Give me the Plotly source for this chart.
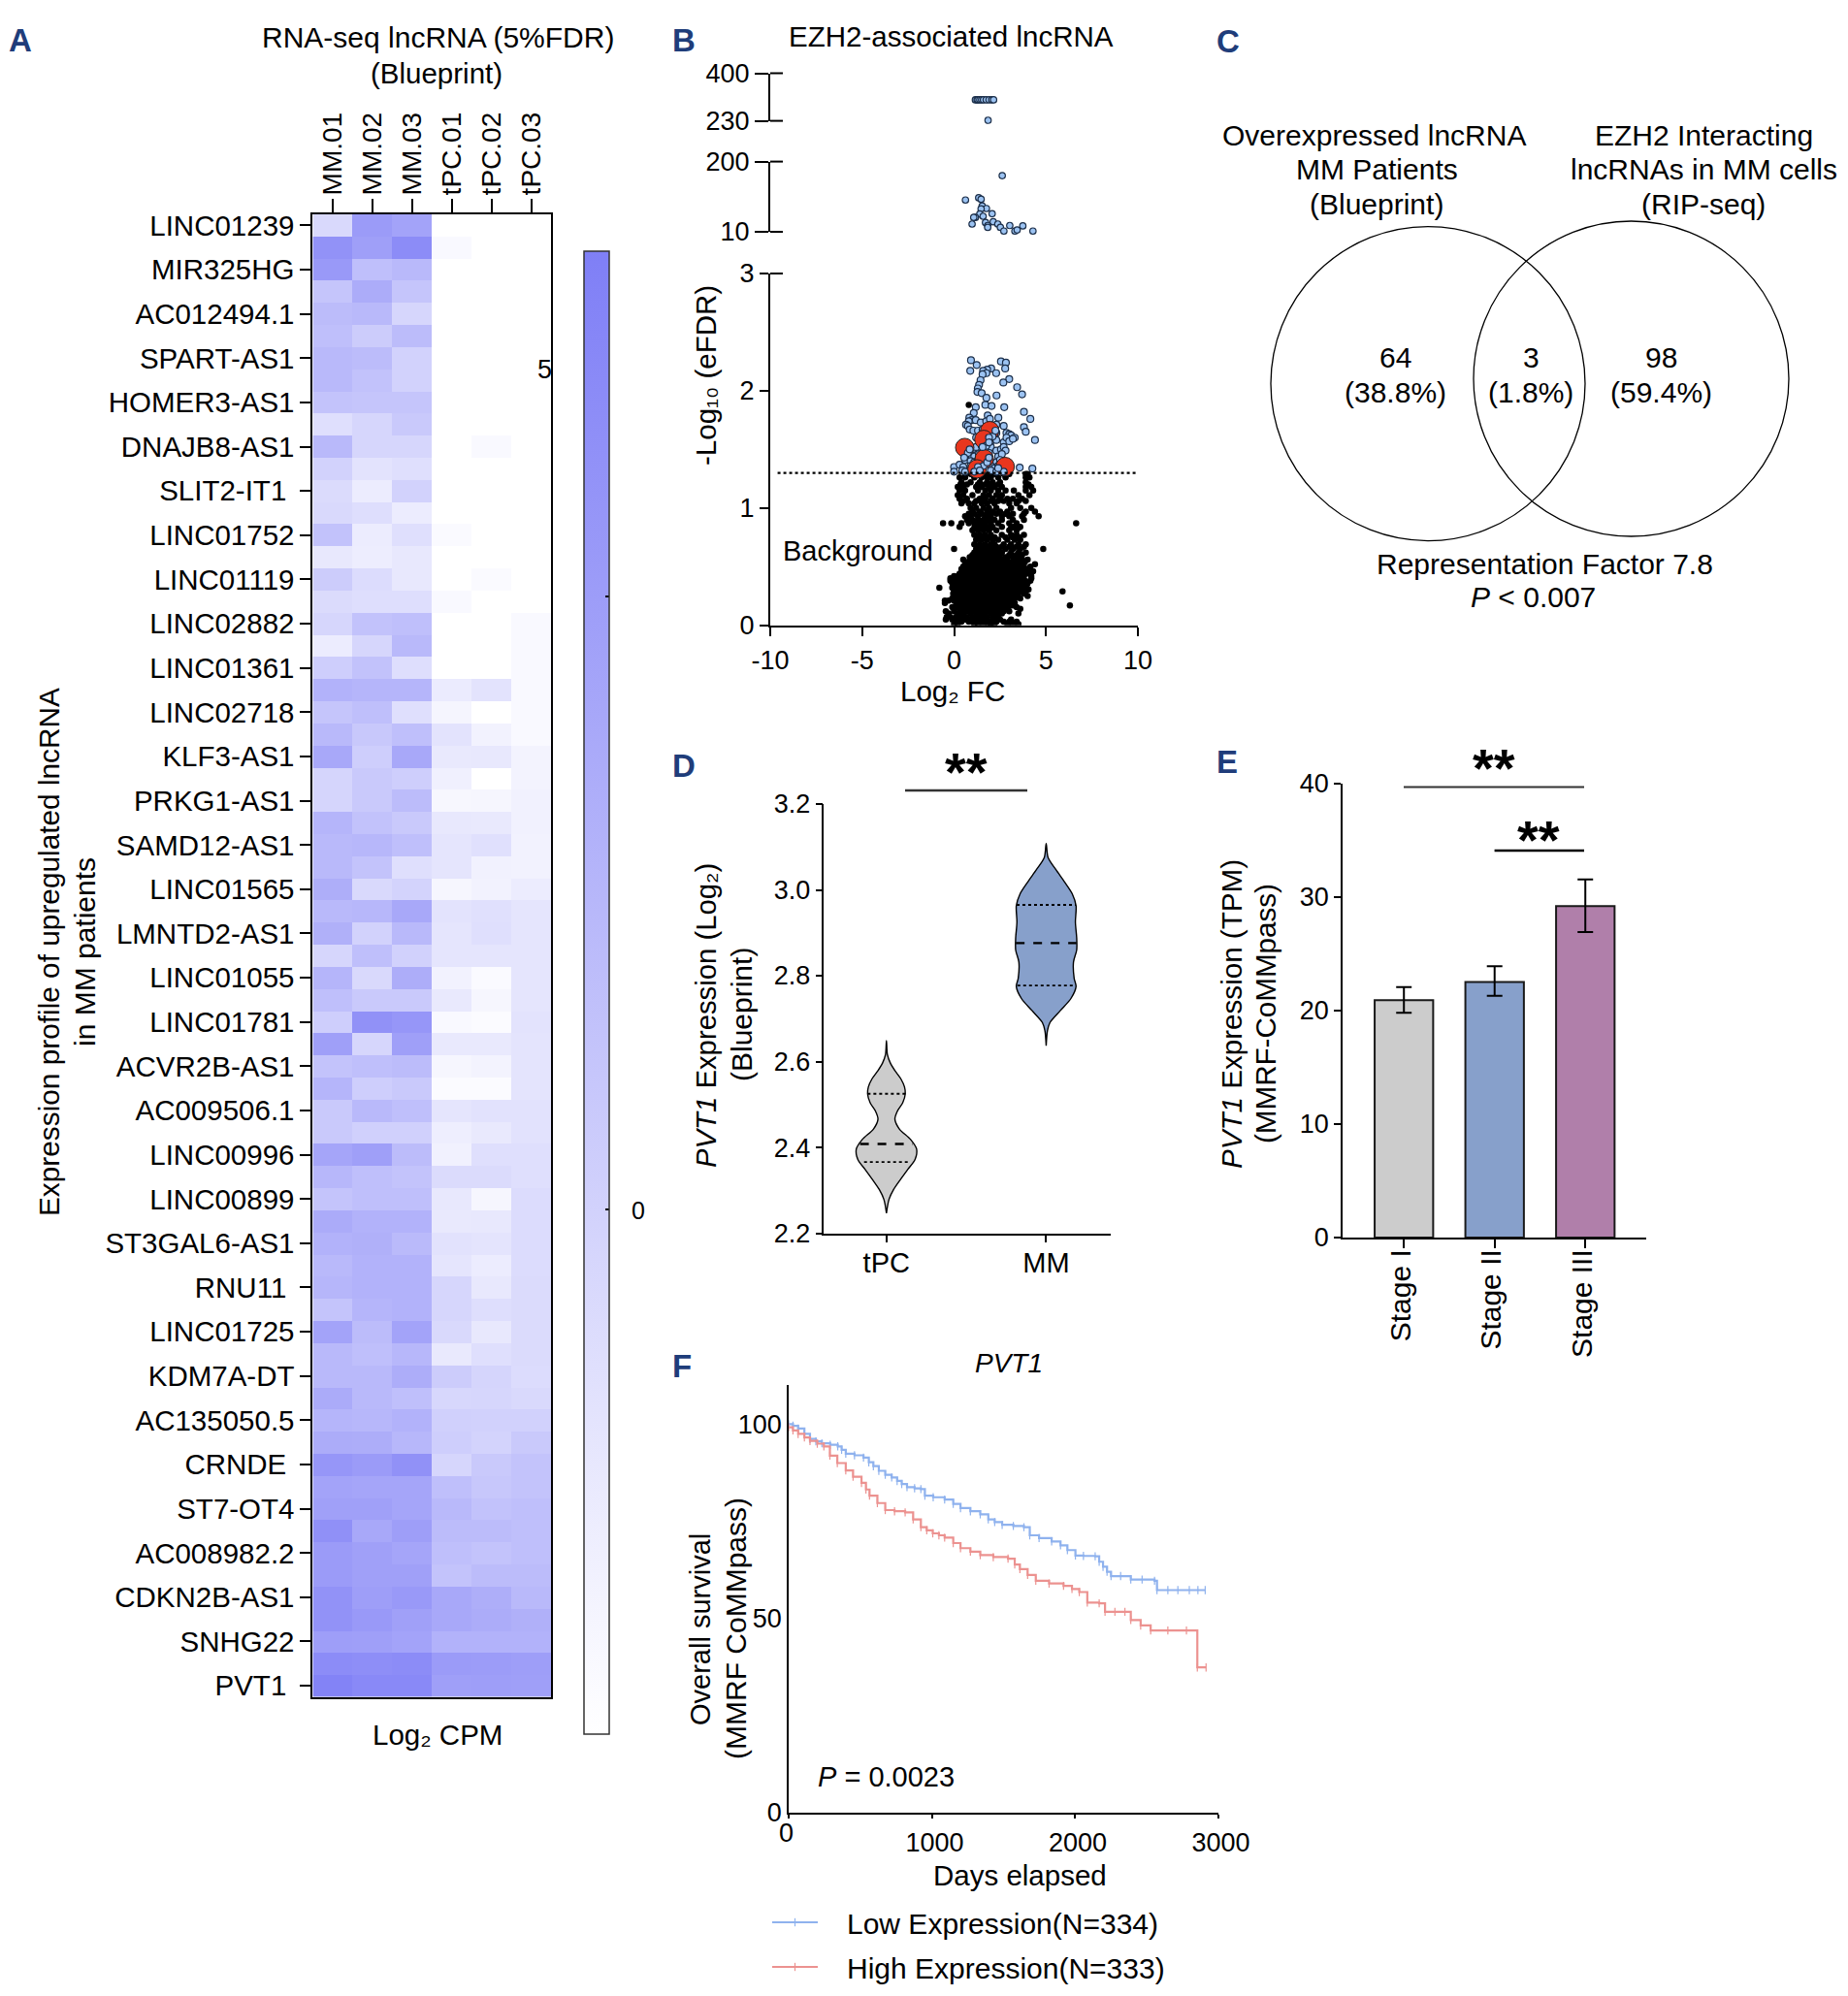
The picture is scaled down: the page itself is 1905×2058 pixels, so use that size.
import plotly.graph_objects as go

W, H = 1905, 2058
FONT = "Liberation Sans"

# ---------- A: heatmap ----------
samples = ["MM.01", "MM.02", "MM.03", "tPC.01", "tPC.02", "tPC.03"]
gene_labels = ["LINC01239", "MIR325HG", "AC012494.1", "SPART-AS1", "HOMER3-AS1", "DNAJB8-AS1",
               "SLIT2-IT1\u00a0", "LINC01752", "LINC01119", "LINC02882", "LINC01361", "LINC02718",
               "KLF3-AS1", "PRKG1-AS1", "SAMD12-AS1", "LINC01565", "LMNTD2-AS1", "LINC01055",
               "LINC01781", "ACVR2B-AS1", "AC009506.1", "LINC00996", "LINC00899", "ST3GAL6-AS1",
               "RNU11\u00a0", "LINC01725", "KDM7A-DT", "AC135050.5", "CRNDE\u00a0", "ST7-OT4",
               "AC008982.2", "CDKN2B-AS1", "SNHG22", "PVT1\u00a0"]
# one row per lncRNA: colour level, as percent of the colour bar
heat_levels = [
    [30, 78, 72, 0, 0, 0], [85, 75, 90, 5, 0, 0], [80, 50, 55, 0, 0, 0], [45, 65, 45, 0, 0, 0],
    [52, 55, 32, 0, 0, 0], [50, 40, 52, 0, 0, 0], [55, 52, 35, 0, 0, 0], [55, 48, 35, 0, 0, 0],
    [47, 45, 45, 0, 0, 0], [25, 32, 42, 0, 0, 0], [55, 32, 32, 0, 5, 0], [35, 22, 25, 0, 0, 0],
    [28, 15, 35, 0, 0, 0], [30, 26, 15, 0, 0, 0], [48, 15, 25, 4, 0, 0], [18, 14, 18, 0, 0, 0],
    [40, 27, 18, 0, 4, 0], [28, 26, 26, 5, 0, 0], [32, 48, 50, 0, 0, 5], [15, 32, 55, 0, 0, 5],
    [38, 48, 26, 0, 0, 5], [60, 58, 58, 16, 22, 5], [45, 50, 25, 8, 0, 5], [55, 43, 50, 22, 10, 5],
    [68, 38, 68, 17, 18, 9], [33, 42, 38, 12, 0, 9], [33, 42, 52, 6, 7, 11], [58, 48, 42, 18, 17, 11],
    [55, 56, 50, 20, 24, 10], [55, 47, 25, 20, 11, 10], [63, 30, 34, 7, 10, 15], [55, 56, 68, 22, 24, 20],
    [62, 35, 55, 20, 25, 20], [32, 50, 36, 20, 20, 20], [58, 30, 64, 10, 4, 20], [50, 42, 42, 17, 7, 20],
    [38, 86, 82, 5, 3, 22], [75, 32, 75, 17, 17, 21], [47, 50, 52, 7, 9, 21], [58, 38, 42, 3, 3, 21],
    [42, 55, 50, 20, 23, 23], [42, 37, 37, 13, 17, 23], [70, 75, 52, 11, 25, 25], [56, 50, 47, 28, 28, 25],
    [46, 50, 50, 18, 7, 27], [66, 60, 60, 17, 18, 27], [60, 62, 54, 23, 21, 27], [55, 60, 60, 20, 15, 27],
    [57, 60, 60, 32, 18, 28], [46, 58, 60, 32, 26, 28], [72, 52, 72, 30, 18, 28], [55, 50, 56, 17, 25, 28],
    [55, 55, 64, 40, 33, 27], [66, 55, 50, 31, 32, 30], [58, 56, 60, 37, 36, 36], [65, 64, 56, 38, 34, 42],
    [82, 78, 86, 32, 42, 47], [72, 70, 70, 50, 44, 47], [74, 74, 70, 55, 48, 50], [87, 68, 76, 52, 52, 50],
    [78, 74, 70, 50, 47, 50], [78, 74, 74, 47, 52, 52], [85, 76, 80, 68, 63, 55], [85, 80, 74, 68, 65, 62],
    [76, 75, 72, 60, 60, 60], [90, 88, 90, 78, 77, 76], [97, 92, 92, 75, 76, 75],
]
CBAR_MIN, CBAR_MAX = -4.28, 7.82
heat_z = [[CBAR_MIN + (CBAR_MAX - CBAR_MIN) * v / 100 for v in row] for row in heat_levels]

# ---------- B: volcano ----------
black_bands = [
    (.01, [0, .2, 1.1, 1.3, 1.6, 1.9, 2.0, 2.2, 2.9, 3.2, 3.5]),
    (.03, [.1, .4, .8, 1.0, 1.4, 1.7, 2.0, 2.3, 2.7, 3.0, 3.4]),
    (.05, [-.45, -.1, .3, .6, .9, 1.2, 1.5, 1.75, 2.1, 2.5, 3.1]),
    (.07, [-.4, -.2, .1, .4, .7, 1.0, 1.3, 1.5, 1.8, 2.1, 2.4]),
    (.10, [-.3, .2, .5, .9, 1.2, 1.5, 1.7, 2.0, 2.3, 2.6, 3.5]),
    (.12, [-.45, 0, .35, .7, 1.05, 1.35, 1.6, 1.85, 2.15, 2.45, 2.7, 3.0]),
    (.14, [0, .3, .6, .9, 1.2, 1.4, 1.7, 1.9, 2.2, 2.5, 2.8, 3.6]),
    (.155, [-.1, .25, .5, .8, 1.1, 1.45, 1.75, 2.05, 2.35, 2.65, 2.95, 3.4]),
    (.17, [.1, .4, .7, 1.0, 1.3, 1.6, 1.8, 2.1, 2.4, 2.7, 3.0, 3.2, 6.3]),
    (.19, [-.5, .2, .55, .85, 1.15, 1.5, 1.75, 2.05, 2.35, 2.65, 2.85, 3.1, 3.3]),
    (.21, [-.5, -.3, 0, .3, .6, .9, 1.2, 1.5, 1.7, 2.0, 2.3, 2.6, 2.9, 3.2]),
    (.23, [-.1, .25, .55, .85, 1.15, 1.45, 1.8, 2.1, 2.45, 2.75, 3.05, 3.3, 3.6]),
    (.25, [.1, .4, .7, 1.0, 1.3, 1.6, 1.9, 2.2, 2.5, 2.8, 3.1, 3.4, 4.0]),
    (.27, [-.05, .2, .5, .8, 1.1, 1.5, 1.8, 2.1, 2.4, 2.7, 3.0, 3.3, 3.5, 3.8]),
    (.29, [0, .3, .6, .9, 1.2, 1.4, 1.7, 2.0, 2.3, 2.6, 2.9, 3.2, 3.6, 3.9, 5.9]),
    (.305, [.1, .45, .75, 1.05, 1.35, 1.6, 1.9, 2.2, 2.5, 2.8, 3.1, 3.4, 3.7, 4.05]),
    (.32, [-.8, -.1, .2, .5, .8, 1.1, 1.4, 1.7, 2.0, 2.3, 2.6, 2.9, 3.2, 3.5, 3.8]),
    (.34, [-.05, .35, .65, .95, 1.25, 1.55, 1.85, 2.15, 2.45, 2.75, 3.05, 3.35, 3.65, 3.95]),
    (.36, [-.1, .2, .5, .8, 1.1, 1.4, 1.6, 1.9, 2.2, 2.5, 2.8, 3.1, 3.4, 3.7, 4.0]),
    (.38, [-.2, .05, .35, .65, .95, 1.25, 1.5, 1.8, 2.1, 2.35, 2.65, 2.95, 3.25, 3.55, 3.85, 4.15]),
    (.40, [-.2, .1, .4, .7, 1.0, 1.3, 1.6, 1.9, 2.1, 2.4, 2.7, 3.0, 3.3, 3.6, 4.2]),
    (.42, [0, .2, .5, .8, 1.1, 1.4, 1.7, 2.0, 2.25, 2.55, 2.85, 3.15, 3.45, 3.8, 4.2]),
    (.44, [.3, .6, .9, 1.2, 1.5, 1.8, 2.1, 2.4, 2.7, 3.0, 3.3, 3.6, 3.9, 4.1]),
    (.46, [.45, .75, 1.05, 1.35, 1.65, 1.95, 2.25, 2.55, 2.85, 3.15, 3.45, 3.75, 4.3]),
    (.48, [.4, .7, 1.0, 1.2, 1.5, 1.8, 2.1, 2.4, 2.7, 3.0, 3.3, 3.6, 4.0]),
    (.50, [.5, .85, 1.1, 1.35, 1.65, 1.95, 2.25, 2.55, 2.85, 3.15, 3.45, 3.8, 4.15]),
    (.52, [.6, .9, 1.2, 1.5, 1.8, 2.1, 2.4, 2.7, 3.0, 3.3, 3.6, 4.4]),
    (.54, [.7, 1.05, 1.35, 1.65, 1.95, 2.25, 2.55, 2.85, 3.15, 3.5, 3.85]),
    (.56, [.5, .9, 1.1, 1.4, 1.7, 2.0, 2.3, 2.6, 2.9, 3.3, 3.7, 4.0]),
    (.58, [.85, 1.2, 1.5, 1.8, 2.1, 2.4, 2.8, 3.2, 3.55]),
    (.60, [1.0, 1.3, 1.6, 1.9, 2.2, 2.5, 3.0, 3.4, 3.7]),
    (.62, [1.1, 1.4, 1.7, 2.0, 2.3, 2.6, 3.1, 3.5, 3.9]),
    (.65, [0, 1.2, 1.5, 1.8, 2.1, 2.4, 2.8, 3.2, 3.6, 4.85]),
    (.67, [1.3, 1.6, 1.9, 2.3, 2.6, 3.0, 3.4, 3.8]),
    (.69, [1.1, 1.4, 1.7, 2.0, 2.2, 2.7, 3.1, 3.5, 3.9]),
    (.73, [1.2, 1.5, 1.8, 2.1, 2.4, 2.9, 3.3, 3.6]),
    (.75, [1.3, 1.6, 1.9, 2.2, 2.8, 3.2, 3.55]),
    (.77, [1.1, 1.4, 1.7, 2.0, 2.6, 3.1, 3.4, 3.8]),
    (.81, [1.0, 1.3, 1.6, 1.9, 2.3, 3.0, 3.4]),
    (.83, [1.1, 1.4, 1.7, 2.0, 3.1, 3.5]),
    (.84, [.3, 1.2, 1.5, 1.8, 2.1, 2.6, 3.2, 3.6]),
    (.87, [-.6, -.15, .4, .8, 1.1, 1.4, 1.7, 2.0, 2.4, 3.0, 3.4, 6.64]),
    (.90, [.7, 1.0, 1.3, 1.6, 1.9, 2.2, 2.6, 3.2, 3.8]),
    (.93, [.6, .9, 1.3, 1.7, 2.0, 2.6, 3.0, 3.7, 4.6]),
    (.95, [.8, 1.1, 1.5, 1.9, 2.3, 2.8, 3.2, 3.8]),
    (.97, [1.0, 1.4, 1.8, 2.1, 2.5, 2.9, 3.9, 4.4]),
    (1.00, [.9, 1.2, 1.6, 1.9, 2.3, 3.1, 3.6, 4.2]),
    (1.04, [.4, .8, 1.1, 1.5, 1.8, 2.2, 3.0, 3.4]),
    (1.06, [.5, 1.2, 1.6, 2.0, 2.4, 2.7, 3.5, 3.9]),
    (1.08, [.3, .7, 1.4, 1.7, 2.1, 2.5, 2.9, 3.2, 3.7]),
    (1.11, [.2, .5, 1.0, 1.6, 1.9, 2.3, 2.6, 3.5, 4.1]),
    (1.15, [.3, .6, 1.3, 1.7, 2.0, 2.4, 2.8, 3.25, 3.9, 4.3]),
    (1.18, [.2, .5, 1.2, 1.5, 1.9, 2.2, 2.6, 3.9, 4.2]),
    (1.20, [.35, .7, 1.3, 1.7, 2.0, 2.4, 4.05]),
    (1.22, [.4, .9, 1.4, 1.8, 2.1, 2.5, 3.9]),
    (1.26, [.3, .6, 1.1, 1.5, 1.8, 2.0, 2.4, 2.8, 3.9, 4.1]),
    (1.29, [.6, .9, 1.2, 1.6, 1.9, 2.2, 2.7, 3.0, 3.9, 4.0]),
    (1.88, [.8]),
]
black_x = [x for y, xs in black_bands for x in xs]
black_y = [y for y, xs in black_bands for x in xs]

blue_points = [
    (.92, 2.26), (1.23, 2.22), (.88, 2.17), (2.55, 2.25), (2.82, 2.24), (2.78, 2.19), (2.02, 2.19),
    (1.8, 2.18), (1.58, 2.17), (1.76, 2.15), (1.55, 2.14), (2.29, 2.15), (3.0, 2.1), (2.68, 2.07),
    (1.44, 2.09), (1.36, 2.05), (1.29, 2.02), (3.43, 2.03), (1.27, 1.99), (1.5, 1.98), (3.7, 1.97),
    (2.31, 1.96), (1.76, 1.94), (1.7, 1.88), (2.04, 1.87), (1.18, 1.86), (2.73, 1.86), (1.07, 1.81),
    (3.8, 1.82), (1.83, 1.79), (2.41, 1.77), (4.15, 1.76), (.83, 1.77), (.97, 1.75), (1.18, 1.75),
    (.8, 1.74), (1.45, 1.73), (1.75, 1.74), (1.95, 1.76), (.65, 1.71), (.75, 1.7), (2.3, 1.71),
    (2.7, 1.7), (3.8, 1.69), (.85, 1.67), (1.05, 1.66), (1.3, 1.66), (1.55, 1.67), (2.0, 1.65),
    (2.3, 1.64), (2.85, 1.64), (3.0, 1.63), (3.1, 1.62), (3.3, 1.6), (3.9, 1.65), (4.4, 1.58),
    (1.2, 1.6), (1.7, 1.59), (2.0, 1.57), (2.3, 1.58), (2.7, 1.56), (2.85, 1.6), (3.0, 1.57),
    (3.2, 1.59), (1.0, 1.5), (1.2, 1.52), (1.5, 1.53), (1.8, 1.5), (2.0, 1.52), (2.3, 1.49),
    (2.55, 1.5), (2.7, 1.52), (2.8, 1.49), (.95, 1.45), (1.1, 1.44), (1.35, 1.46), (1.6, 1.45),
    (1.9, 1.47), (2.4, 1.44), (2.6, 1.46), (.6, 1.41), (.9, 1.4), (1.1, 1.39), (1.3, 1.41),
    (1.7, 1.38), (2.3, 1.39), (2.5, 1.41), (0, 1.35), (.3, 1.37), (.5, 1.35), (.9, 1.36),
    (1.2, 1.35), (2.0, 1.36), (2.2, 1.34), (2.4, 1.36), (3.57, 1.345), (4.26, 1.337), (0, 1.31),
    (.45, 1.32), (.6, 1.31), (1.3, 1.32), (1.35, 1.31), (2.0, 1.32), (2.3, 1.31), (2.6, 1.32), (2.9, 1.31),
]
blue_x = [p[0] for p in blue_points]
blue_y = [p[1] for p in blue_points]
red_x = [1.94, 1.62, .58, 1.64, 2.78, 1.25]
red_y = [1.66, 1.585, 1.516, 1.42, 1.354, 1.334]
# blue points that sit in front of the red ones
front_x = [2.1, 1.9, 2.25, 1.75, 1.9, 1.55, .75, .85, .55, 1.6, 1.8, 1.9, 2.7, 2.4, 1.3, 1.1, 1.4]
front_y = [1.61, 1.6, 1.66, 1.53, 1.56, 1.52, 1.47, 1.5, 1.43, 1.36, 1.39, 1.43, 1.31, 1.34, 1.35, 1.31, 1.32]
mid_x = [.62, 1.34, 1.47, 1.53, 1.76, 1.47, 1.4, 1.58, 1.16, 1.07, .98, 1.71, 1.83, 1.83, 2.07, 2.13,
         2.38, 2.52, 2.71, 3.03, 3.31, 3.43, 3.74, 4.29, 2.62]
mid_y = [96, 102, 98, 80, 73, 72, 58, 52, 49, 49, 31, 35, 27, 22, 59, 37, 31, 22, 12, 27, 12, 15, 26, 12, 162]
top_x = [1.16, 1.25, 1.3, 1.4, 1.5, 1.6, 1.75, 1.9, 2.05, 2.15, 1.85]
top_y = [305, 305, 305, 305, 305, 305, 305, 305, 305, 305, 232]
threshold_x = [-9.6, 9.9]
threshold_y = [1.3, 1.3]

# ---------- D: violins ----------
tpc_y = [2.649, 2.616, 2.597, 2.579, 2.560, 2.541, 2.525, 2.504, 2.485, 2.466, 2.443, 2.419, 2.396, 2.372,
         2.349, 2.326, 2.302, 2.279, 2.247]
tpc_hw = [0, .006, .024, .053, .09, .113, .118, .102, .069, .053, .081, .15, .189, .179, .134, .089, .045, .016, 0]
mm_y = [3.108, 3.075, 3.047, 3.019, 2.991, 2.963, 2.925, 2.888, 2.860, 2.832, 2.794, 2.775, 2.747, 2.719,
        2.691, 2.672, 2.637]
mm_hw = [0, .012, .061, .114, .163, .187, .183, .191, .191, .171, .175, .187, .155, .089, .024, .008, 0]
tpc_quart = [2.366, 2.408, 2.525]
tpc_quart_hw = [.14, .165, .118]
mm_quart = [2.777, 2.876, 2.965]
mm_quart_hw = [.18, .19, .185]

# ---------- E: bars ----------
stages = ["Stage I", "Stage II", "Stage III"]
stage_vals = [20.9, 22.5, 29.2]
stage_err_up = [1.15, 1.4, 2.35]
stage_err_dn = [1.1, 1.2, 2.3]
stage_cols = ["#cccccc", "#87a0cb", "#b07faa"]

# ---------- F: survival ----------
low_x = [0, 30, 66, 110, 149, 190, 232, 290, 343, 370, 399, 460, 523, 560, 592, 630, 675, 720, 758, 790, 827, 880,
         924, 952, 1010, 1090, 1150, 1201, 1270, 1339, 1395, 1440, 1492, 1570, 1644, 1685, 1750, 1838, 1900, 1948,
         2004, 2060, 2142, 2170, 2197, 2225, 2253, 2320, 2391, 2470, 2557, 2574, 2650, 2720, 2800, 2860, 2911]
low_y = [100, 99.6, 98.9, 97.5, 96.2, 95.6, 95.1, 94.7, 94.3, 93.4, 92.4, 92, 91.4, 90.2, 89.2, 88, 87, 86.3, 85.4,
         84.6, 83.8, 83.5, 83.3, 81.6, 81.2, 80.6, 79.5, 78.4, 77.6, 76.8, 75.5, 74.8, 74.1, 73.8, 73.5, 71.4, 70.7,
         69.8, 68.8, 67.6, 66.2, 66.1, 66, 64.6, 63.3, 62, 60.9, 60.9, 60, 60, 59.7, 57.3, 57.3, 57.3, 57.3, 57.3, 57.3]
high_x = [0, 30, 66, 110, 149, 200, 246, 288, 340, 399, 450, 509, 540, 565, 620, 675, 740, 814, 870, 924, 965, 1007,
          1050, 1090, 1150, 1201, 1270, 1339, 1430, 1533, 1580, 1616, 1670, 1727, 1820, 1921, 1980, 2031, 2087, 2170,
          2211, 2280, 2350, 2391, 2460, 2530, 2650, 2780, 2856, 2917]
high_y = [99.2, 98.4, 97.5, 96.6, 95.7, 95, 94.3, 91.9, 90, 88.1, 86.5, 84.9, 83.2, 81.6, 79.7, 77.9, 77.6, 77.3, 75.5,
          73.5, 72.7, 71.9, 71.4, 70.8, 69.4, 68.1, 67.2, 66.3, 65.8, 65.4, 63.9, 62.7, 61.2, 59.7, 59, 58.4, 57.6,
          56.8, 54.1, 53.9, 51.7, 51.7, 51.7, 49.6, 48.2, 46.9, 46.9, 46.9, 37.4, 37.4]


# ---------- helpers ----------
def xdom(a, b):
    return [a / W, b / W]


def ydom(top, bottom):
    return [1 - bottom / H, 1 - top / H]


annotations, shapes = [], []


def text(px, py, s, size=28, rot=0, color="black", bold=False, xanchor="center"):
    if bold:
        s = "<b>" + s + "</b>"
    annotations.append(dict(x=px / W, y=1 - py / H, xref="paper", yref="paper", text=s, showarrow=False,
                            font=dict(family=FONT, size=size, color=color), textangle=rot,
                            xanchor=xanchor, yanchor="middle", borderpad=0))


def hline(x0, x1, y, width=2, color="black"):
    shapes.append(dict(type="line", xref="paper", yref="paper", x0=x0 / W, x1=x1 / W, y0=1 - y / H, y1=1 - y / H,
                       line=dict(color=color, width=width)))


def circle(cx, cy, r):
    shapes.append(dict(type="circle", xref="paper", yref="paper", x0=(cx - r) / W, x1=(cx + r) / W,
                       y0=1 - (cy + r) / H, y1=1 - (cy - r) / H, line=dict(color="black", width=1.3)))


def axis(**kw):
    base = dict(showgrid=False, zeroline=False, showline=True, linecolor="black", linewidth=2, ticks="outside",
                tickcolor="black", tickwidth=2, ticklen=8, tickfont=dict(family=FONT, size=27, color="black"),
                automargin=False)
    base.update(kw)
    return base


fig = go.Figure()
hidden = dict(visible=False, showgrid=False, zeroline=False)

# A
fig.add_trace(go.Heatmap(
    z=heat_z, x=list(range(6)), y=list(range(len(heat_z))), zmin=CBAR_MIN, zmax=CBAR_MAX, xaxis="x", yaxis="y",
    colorscale=[[0, "#ffffff"], [1, "#7f7ff6"]], xgap=0, ygap=0,
    colorbar=dict(x=602 / W, xanchor="left", thickness=25.5, thicknessmode="pixels", len=(1788 - 259) / H,
                  lenmode="fraction", y=1 - 259 / H, yanchor="top", xpad=0, ypad=0, outlinecolor="#333333",
                  outlinewidth=1.5, tickvals=[0, 5], ticks="inside", ticklen=4, tickcolor="black", tickwidth=1.5,
                  showticklabels=False)))

# B
bx = dict(xaxis="x2", yaxis="y2")
blue_marker = dict(color="#9cc3f2", size=7, line=dict(color="#1c2f4a", width=1.2))
fig.add_trace(go.Scatter(x=black_x, y=black_y, mode="markers", marker=dict(color="black", size=6.5), **bx))
fig.add_trace(go.Scatter(x=blue_x, y=blue_y, mode="markers", marker=blue_marker, **bx))
fig.add_trace(go.Scatter(x=red_x, y=red_y, mode="markers",
                         marker=dict(color="#e8361e", size=19, line=dict(color="#222222", width=1)), **bx))
fig.add_trace(go.Scatter(x=front_x, y=front_y, mode="markers", marker=blue_marker, **bx))
fig.add_trace(go.Scatter(x=threshold_x, y=threshold_y, mode="lines",
                         line=dict(color="black", width=2.2, dash="dot"), **bx))
fig.add_trace(go.Scatter(x=mid_x, y=mid_y, mode="markers", xaxis="x3", yaxis="y3", cliponaxis=False,
                         marker=dict(color="#9cc3f2", size=6.5, line=dict(color="#1c2f4a", width=1.2))))
fig.add_trace(go.Scatter(x=top_x, y=top_y, mode="markers", xaxis="x4", yaxis="y4", cliponaxis=False,
                         marker=dict(color="#9cc3f2", size=6.5, line=dict(color="#1c2f4a", width=1.2))))

# D
for center, vy, hw, col, qy, qhw in [(1, tpc_y, tpc_hw, "#cccccc", tpc_quart, tpc_quart_hw),
                                     (2, mm_y, mm_hw, "#87a0cb", mm_quart, mm_quart_hw)]:
    xs = [center - w for w in hw] + [center + w for w in hw[::-1]]
    ys = list(vy) + list(vy[::-1])
    fig.add_trace(go.Scatter(x=xs, y=ys, mode="lines", fill="toself", fillcolor=col, xaxis="x5", yaxis="y5",
                             line=dict(color="black", width=1.4, shape="spline", smoothing=0.8)))
    for q, w, dash, lw in zip(qy, qhw, ["dot", "dash", "dot"], [1.8, 2.4, 1.8]):
        fig.add_trace(go.Scatter(x=[center - w, center + w], y=[q, q], mode="lines", xaxis="x5", yaxis="y5",
                                 line=dict(color="black", width=lw, dash=dash)))

# E
fig.add_trace(go.Bar(x=[0, 1, 2], y=stage_vals, width=0.645, xaxis="x6", yaxis="y6",
                     marker=dict(color=stage_cols, line=dict(color="#1a1a1a", width=2)),
                     error_y=dict(type="data", symmetric=False, array=stage_err_up, arrayminus=stage_err_dn,
                                  color="black", thickness=2, width=8)))

# F  (the non-breaking spaces set the gap between legend line and legend text)
fig.add_trace(go.Scatter(x=low_x, y=low_y, mode="lines+markers", name="\u00a0\u00a0\u00a0Low Expression(N=334)",
                         xaxis="x7", yaxis="y7", line=dict(color="#8fb2ee", width=2.2, shape="hv"), legend="legend",
                         marker=dict(symbol="line-ns", size=6, line=dict(color="#8fb2ee", width=1.2))))
fig.add_trace(go.Scatter(x=high_x, y=high_y, mode="lines+markers", name="\u00a0\u00a0\u00a0High Expression(N=333)",
                         xaxis="x7", yaxis="y7", line=dict(color="#ec9290", width=2.2, shape="hv"), legend="legend2",
                         marker=dict(symbol="line-ns", size=6, line=dict(color="#ec9290", width=1.2))))
for t in fig.data:
    t.showlegend = bool(t.name)

# ---------- texts ----------
navy = "#1f3d7a"
for px, py, s in [(21, 41, "A"), (705, 41, "B"), (1266, 42, "C"), (705, 789, "D"), (1265, 785, "E"), (703, 1408, "F")]:
    text(px, py, s, size=33, color=navy, bold=True)

text(451, 39, "RNA-seq lncRNA (5%FDR)", 30)
text(450, 75, "(Blueprint)", 29.5)
text(451, 1788, "Log₂ CPM", 29.5)
text(50, 982, "Expression profile of upregulated lncRNA", 29.8, rot=-90)
text(87, 982, "in MM patients", 30, rot=-90)
text(561, 381, "5", 27)
text(658, 1248, "0", 25)

text(980, 38, "EZH2-associated lncRNA", 29.5)
text(727, 387, "-Log₁₀ (eFDR)", 29.5, rot=-90)
text(982, 712, "Log₂ FC", 29.5)
text(884, 568, "Background", 29)

for px, py, s in [(1416, 140, "Overexpressed lncRNA"), (1419, 175, "MM Patients"), (1419, 210, "(Blueprint)"),
                  (1756, 140, "EZH2 Interacting"), (1756, 175, "lncRNAs in MM cells"), (1756, 210, "(RIP-seq)"),
                  (1438, 368, "64"), (1438, 405, "(38.8%)"), (1578, 368, "3"), (1578, 405, "(1.8%)"),
                  (1712, 368, "98"), (1712, 405, "(59.4%)"), (1592, 581, "Representation Factor 7.8"),
                  (1580, 615, "<i>P</i> &lt; 0.007")]:
    text(px, py, s, 30)
circle(1472, 395.6, 162)
circle(1681.5, 390.5, 162.5)

text(727, 1047, "<i>PVT1</i> Expression (Log₂)", 29.3, rot=-90)
text(764, 1046, "(Blueprint)", 30, rot=-90)
text(996, 796, "**", 56, bold=True)
hline(933, 1059, 815, 2.4, "#333333")

text(1269, 1046, "<i>PVT1</i> Expression (TPM)", 29.6, rot=-90)
text(1304, 1045, "(MMRF-CoMMpass)", 29.6, rot=-90)
text(1540, 791, "**", 56, bold=True)
hline(1447, 1633, 811.5, 2.2, "#333333")
text(1586, 865, "**", 56, bold=True)
hline(1540.6, 1633, 877, 2.4)

text(1040, 1405, "<i>PVT1</i>", 28)
text(722, 1680, "Overall survival", 29, rot=-90)
text(758, 1679, "(MMRF CoMMpass)", 30, rot=-90)
text(913, 1832, "<i>P</i> = 0.0023", 29)
text(1051, 1933, "Days elapsed", 29.5)
text(810, 1890, "0", 27)

# tick stubs to the right of the broken axis of panel B, and left stubs for the colour bar's ticks
for py in [75.5, 124.6, 166.6, 239, 282]:
    hline(794, 807, py, 2)
for py in [615.6, 1247]:
    hline(602, 606, py, 1.5)

layout_axes = dict(
    # A
    xaxis=axis(domain=xdom(322.4, 568.2), range=[-0.5, 5.5], side="top", tickvals=list(range(6)), ticktext=samples,
               tickangle=-90, ticklen=14, tickwidth=1.8, tickfont=dict(family=FONT, size=28, color="black"),
               mirror=True, anchor="y", ticklabelstandoff=-2),
    yaxis=axis(domain=ydom(221, 1749.5), range=[66.5, -0.5], tickvals=list(range(0, 67, 2)), ticktext=gene_labels,
               ticklen=11, tickwidth=1.8, tickfont=dict(family=FONT, size=29.5, color="black"), mirror=True, anchor="x"),
    # B
    xaxis2=axis(domain=xdom(794, 1173), range=[-10, 10], tickvals=[-10, -5, 0, 5, 10],
                ticktext=["-10", "-5", "0", "5", "10"], anchor="y2", ticklen=9, ticklabelstandoff=2),
    yaxis2=axis(domain=ydom(282, 644.7), range=[0, 3], tickvals=[0, 1, 2, 3], anchor="x2", ticklen=9),
    xaxis3=dict(hidden, domain=xdom(794, 1173), range=[-10, 10], anchor="y3"),
    yaxis3=axis(domain=ydom(166.6, 239), range=[10, 200], tickvals=[10, 200], anchor="x3", ticklen=14),
    xaxis4=dict(hidden, domain=xdom(794, 1173), range=[-10, 10], anchor="y4"),
    yaxis4=axis(domain=ydom(75.5, 124.6), range=[230, 400], tickvals=[230, 400], anchor="x4", ticklen=14),
    # D
    xaxis5=axis(domain=xdom(849.4, 1144.8), range=[0.609, 2.403], tickvals=[1, 2], ticktext=["tPC", "MM"], anchor="y5",
                ticklen=7, linewidth=1.8, tickwidth=1.5, tickfont=dict(family=FONT, size=29, color="black"),
                ticklabelstandoff=-3),
    yaxis5=axis(domain=ydom(829, 1271.6), range=[2.2, 3.2], tickvals=[2.2, 2.4, 2.6, 2.8, 3.0, 3.2],
                tickformat=".1f", anchor="x5", ticklen=7, linewidth=1.5, tickwidth=1.5),
    # E
    xaxis6=axis(domain=xdom(1384, 1696.7), range=[-0.676, 2.668], tickvals=[0, 1, 2], ticktext=stages, tickangle=-90,
                anchor="y6", ticklen=9, linewidth=2.4, tickfont=dict(family=FONT, size=30, color="black"),
                ticklabelstandoff=-11, ticklabelshift=-3),
    yaxis6=axis(domain=ydom(807.7, 1276), range=[0, 40], tickvals=[0, 10, 20, 30, 40], anchor="x6", ticklen=7,
                linewidth=1.5, tickwidth=1.5),
    # F
    xaxis7=axis(domain=xdom(813, 1255.5), range=[0, 3000], tickvals=[0, 1000, 2000, 3000],
                ticktext=["", "1000", "2000", "3000"], anchor="y7", ticklen=4,
                linewidth=1.6, tickwidth=1.5, ticklabelstandoff=2, ticklabelshift=3),
    yaxis7=axis(domain=ydom(1428.4, 1869), range=[0, 110], tickvals=[0, 50, 100], anchor="x7", ticklen=0,
                linewidth=1.6, ticks=""),
)

legend_common = dict(bgcolor="rgba(0,0,0,0)", borderwidth=0, font=dict(family=FONT, size=30, color="black"),
                     xanchor="left", yanchor="middle", itemwidth=47, itemclick=False, itemdoubleclick=False)

fig.update_layout(
    width=W, height=H, margin=dict(l=0, r=0, t=0, b=0, pad=0, autoexpand=False), paper_bgcolor="white",
    plot_bgcolor="rgba(0,0,0,0)", barmode="overlay", font=dict(family=FONT, color="black"),
    annotations=annotations, shapes=shapes,
    legend=dict(legend_common, x=791 / W, y=1 - 1982 / H),
    legend2=dict(legend_common, x=791 / W, y=1 - 2028 / H),
    **layout_axes,
)

fig.write_html("out.html", config={"displayModeBar": False},
               post_script="document.body.style.margin='0';window.dispatchEvent(new Event('resize'));")
